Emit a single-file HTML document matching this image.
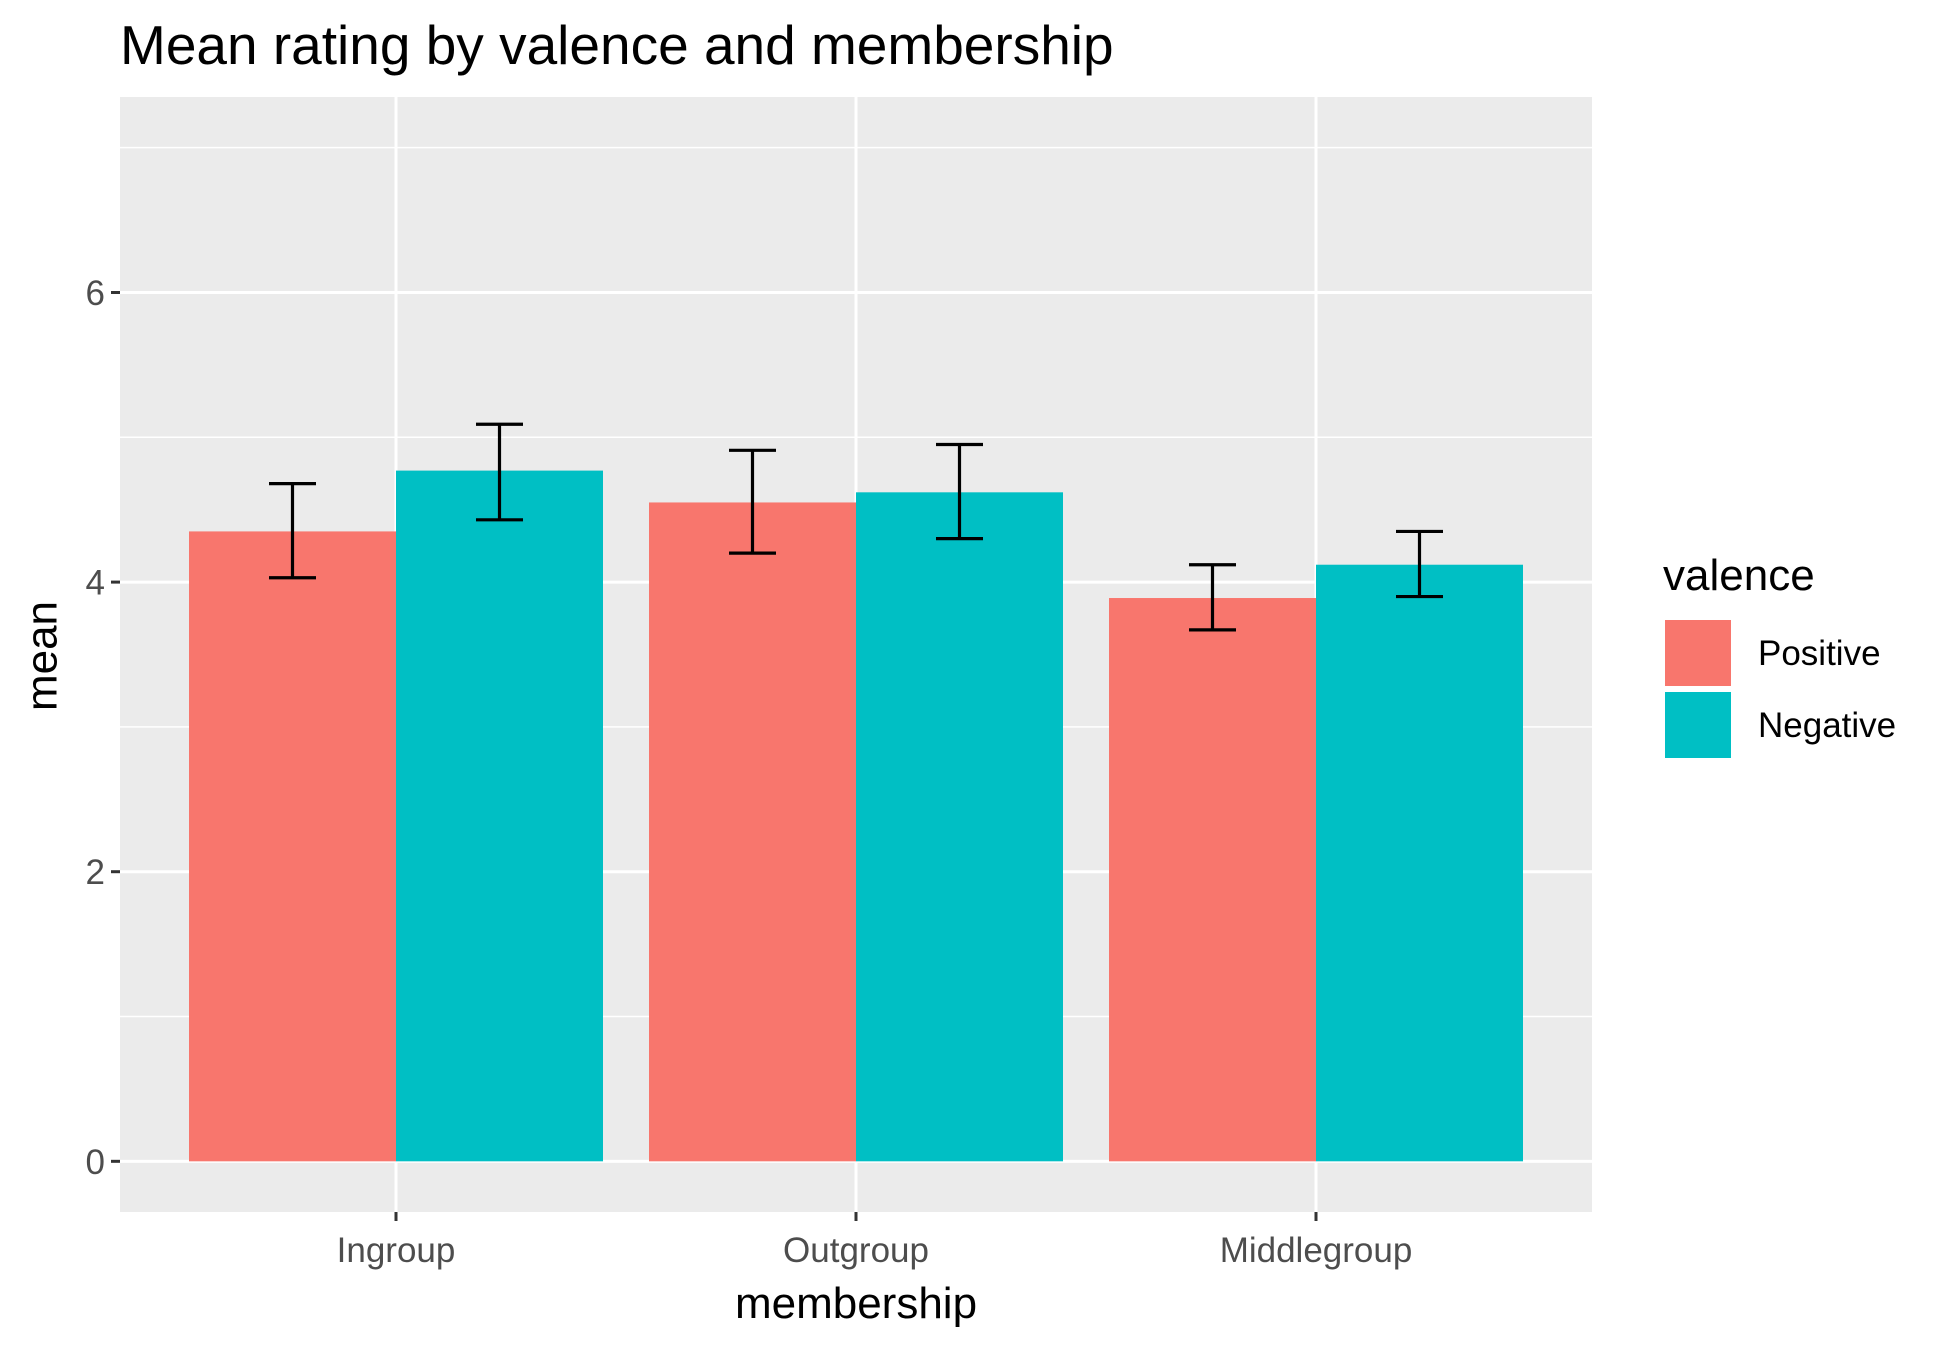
<!DOCTYPE html>
<html><head><meta charset="utf-8"><style>
html,body{margin:0;padding:0;background:#fff}
svg{display:block;font-family:"Liberation Sans",sans-serif}
</style></head><body>
<svg id="chart" width="1950" height="1350" viewBox="0 0 1950 1350">
<rect x="0" y="0" width="1950" height="1350" fill="#fff"/>
<text x="120" y="64" font-size="55" fill="#000">Mean rating by valence and membership</text>
<rect x="120" y="97" width="1472" height="1115" fill="#ebebeb"/>
<g id="grid"></g>
<g id="bars"></g>
<g id="errs"></g>
<g id="axes"></g>
<text x="45" y="656" font-size="44" fill="#000" text-anchor="middle" transform="rotate(-90 45 656)" dominant-baseline="middle">mean</text>
<text x="856" y="1318" font-size="44" fill="#000" text-anchor="middle">membership</text>
<g>
<text x="1663" y="590" font-size="44" fill="#000">valence</text>
<rect x="1665" y="620" width="66" height="66" fill="#F8766D"/>
<text x="1758" y="665" font-size="35" fill="#000">Positive</text>
<rect x="1665" y="692" width="66" height="66" fill="#00BFC4"/>
<text x="1758" y="737" font-size="35" fill="#000">Negative</text>
</g>
</svg>
<script>
const categories = ["Ingroup", "Outgroup", "Middlegroup"];
const seriesNames = ["Positive", "Negative"];
const positiveMeans = [4.35, 4.55, 3.89];
const negativeMeans = [4.77, 4.62, 4.12];
const positiveLow = [4.03, 4.20, 3.67];
const positiveHigh = [4.68, 4.91, 4.12];
const negativeLow = [4.43, 4.30, 3.90];
const negativeHigh = [5.09, 4.95, 4.35];
const yTicks = [0, 2, 4, 6];
const yMinor = [1, 3, 5, 7];

const NS = "http://www.w3.org/2000/svg";
const panelL = 120, panelR = 1592, panelT = 97, panelB = 1212;
const yMin = -0.35, yMax = 7.35;
function yScale(v){ return panelB - (v - yMin) / (yMax - yMin) * (panelB - panelT); }
const step = (panelR - panelL) / (categories.length + 0.2);
function xScale(i){ return panelL + step * (0.6 + i); }
const barW = step * 0.45;
const colors = ["#F8766D", "#00BFC4"];
function mk(tag, attrs, parent){
  const e = document.createElementNS(NS, tag);
  for (const k in attrs) e.setAttribute(k, attrs[k]);
  parent.appendChild(e);
  return e;
}
const grid = document.getElementById("grid");
yMinor.forEach(v => {
  const l = mk("line", {x1: panelL, x2: panelR, y1: yScale(v), y2: yScale(v), stroke: "#fff", "stroke-width": 1.5}, grid);
  
  
});
yTicks.forEach(v => {
  const l = mk("line", {x1: panelL, x2: panelR, y1: yScale(v), y2: yScale(v), stroke: "#fff", "stroke-width": 3}, grid);
  
  
});
categories.forEach((c, i) => {
  const l = mk("line", {x1: xScale(i), x2: xScale(i), y1: panelT, y2: panelB, stroke: "#fff", "stroke-width": 3}, grid);
  
  
});
const bars = document.getElementById("bars");
const errs = document.getElementById("errs");
const means = [positiveMeans, negativeMeans];
const lows = [positiveLow, negativeLow];
const highs = [positiveHigh, negativeHigh];
categories.forEach((c, i) => {
  for (let s = 0; s < 2; s++) {
    const x0 = xScale(i) - barW + s * barW;
    const r = mk("rect", {x: x0, y: yScale(means[s][i]), width: barW, height: yScale(0) - yScale(means[s][i]), fill: colors[s]}, bars);
    
    
    const cx = x0 + barW / 2, hw = 23.5;
    const g = mk("g", {stroke: "#000", "stroke-width": 3.2, fill: "none"}, errs);
    
    
    mk("line", {x1: cx, x2: cx, y1: yScale(lows[s][i]), y2: yScale(highs[s][i])}, g);
    mk("line", {x1: cx - hw, x2: cx + hw, y1: yScale(lows[s][i]), y2: yScale(lows[s][i])}, g);
    mk("line", {x1: cx - hw, x2: cx + hw, y1: yScale(highs[s][i]), y2: yScale(highs[s][i])}, g);
  }
});
const axes = document.getElementById("axes");
yTicks.forEach(v => {
  const t = mk("line", {x1: panelL - 9, x2: panelL, y1: yScale(v), y2: yScale(v), stroke: "#333", "stroke-width": 3}, axes);
  
  
  const tx = mk("text", {x: panelL - 15, y: yScale(v) + 12.5, "font-size": 35, fill: "#4d4d4d", "text-anchor": "end"}, axes);
  tx.textContent = String(v);
  
  
});
categories.forEach((c, i) => {
  const t = mk("line", {x1: xScale(i), x2: xScale(i), y1: panelB, y2: panelB + 9, stroke: "#333", "stroke-width": 3}, axes);
  
  
  const tx = mk("text", {x: xScale(i), y: panelB + 50, "font-size": 35, fill: "#4d4d4d", "text-anchor": "middle"}, axes);
  tx.textContent = c;
  
  
});
</script>
</body></html>
